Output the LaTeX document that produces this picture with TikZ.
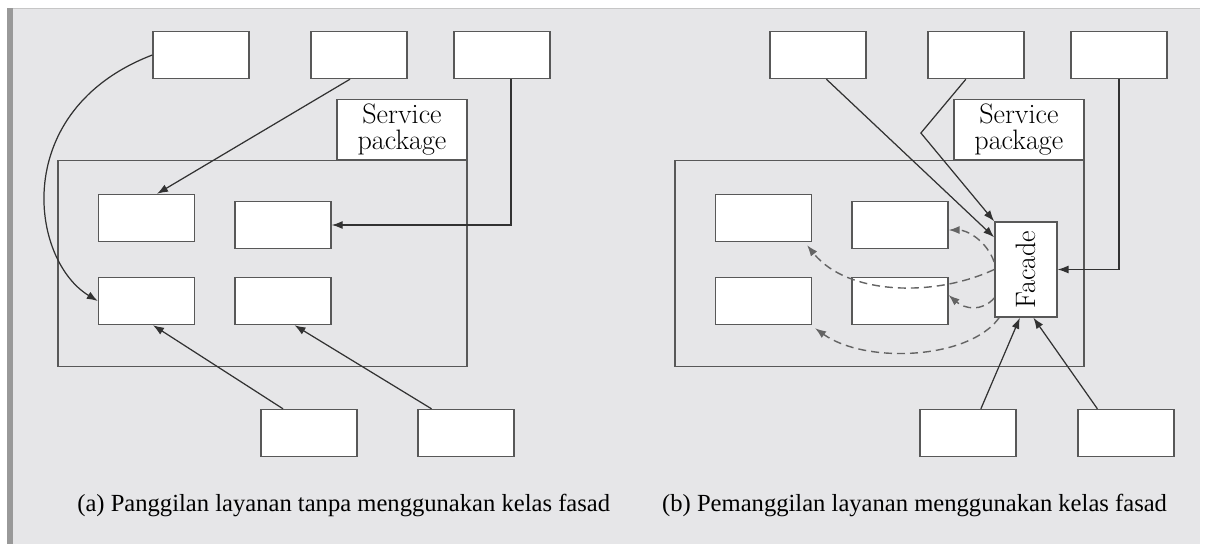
\documentclass[tikz,border=0pt]{standalone}
\usepackage{fontspec}
\newfontfamily\capfont{Liberation Serif}
\definecolor{panelgray}{RGB}{230,230,232}
\definecolor{edgegray}{RGB}{88,88,88}
\definecolor{linegray}{RGB}{50,50,50}
\definecolor{dashgray}{RGB}{100,100,100}
\usetikzlibrary{arrows.meta, positioning}

\begin{document}
\begin{tikzpicture}[x=0.02cm, y=-0.02cm,
  cls/.style={draw=edgegray, line width=0.8pt, fill=white, minimum width=1.92cm, minimum height=0.94cm, inner sep=0pt},
  pkg/.style={draw=edgegray, line width=0.8pt, minimum width=8.18cm, minimum height=4.11cm, inner sep=0pt},
  pkgtab/.style={draw=edgegray, line width=0.8pt, fill=white, minimum width=2.6cm, minimum height=1.2cm, inner sep=0pt, align=center, font=\fontsize{16}{14.5}\selectfont},
  call/.style={draw=linegray, line width=0.7pt, -{Latex[length=2.2mm,width=1.6mm]}},
  viafac/.style={draw=dashgray, line width=0.8pt, dash pattern=on 1.6mm off 1mm, -{Latex[length=2.2mm,width=1.6mm]}},
  caption/.style={font=\capfont\fontsize{14}{16}\selectfont, anchor=base west, inner sep=0pt}]
\useasboundingbox (0,0) rectangle (1207,549);
\fill[white] (0,0) rectangle (1207,549);
\fill[panelgray] (10,8) rectangle (1200,544);
\fill[gray!80] (7,8) rectangle (13,544);
\draw[gray!45] (13,8.5) -- (1200,8.5);
% (a) without facade
\begin{scope}
\node[cls] (a-t1) at (201,55) {};
\node[cls] (a-t2) at (359,55) {};
\node[cls] (a-t3) at (502,55) {};
\node[pkg] (a-pkg) at (262.5,263.5) {};
\node[pkgtab, anchor=south east] (a-tab) at (a-pkg.north east) {Service\\package};
\node[cls] (a-tl) at (146.5,218) {};
\node[cls] (a-tr) at (283,225) {};
\node[cls] (a-bl) at (146.5,301) {};
\node[cls] (a-br) at (283,301) {};
\node[cls] (a-u1) at (309,433) {};
\node[cls] (a-u2) at (466,433) {};
\draw[call] (a-t1.west) .. controls +(-143,55) and +(-68,-41) .. (a-bl.west);
\draw[call] ([xshift=-0.18cm]a-t2.south) -- ([xshift=0.21cm]a-tl.north);
\draw[call] ([xshift=0.18cm]a-t3.south) |- (a-tr.east);
\draw[call] ([xshift=-0.52cm]a-u1.north) -- ([xshift=0.13cm]a-bl.south);
\draw[call] ([xshift=-0.69cm]a-u2.north) -- ([xshift=0.23cm]a-br.south);
\node[caption] (a-cap) at (77,511) {(a) Panggilan layanan tanpa menggunakan kelas fasad};
\end{scope}
% (b) with facade
\begin{scope}[xshift=12.34cm]
\node[cls] (b-t1) at (201,55) {};
\node[cls] (b-t2) at (359,55) {};
\node[cls] (b-t3) at (502,55) {};
\node[pkg] (b-pkg) at (262.5,263.5) {};
\node[pkgtab, anchor=south east] (b-tab) at (b-pkg.north east) {Service\\package};
\node[cls] (b-tl) at (146.5,218) {};
\node[cls] (b-tr) at (283,225) {};
\node[cls] (b-bl) at (146.5,301) {};
\node[cls] (b-br) at (283,301) {};
\node[cls, minimum width=1.24cm, minimum height=1.9cm, font=\fontsize{16}{16}\selectfont] (b-fac) at (409,269.5) {\rotatebox{90}{Facade}};
\node[cls] (b-u1) at (351,433) {};
\node[cls] (b-u2) at (509,433) {};
\coordinate (b-bend) at (304,133);
\draw[call] ([xshift=0.17cm]b-t1.south) -- ([yshift=-0.32cm]b-fac.north west);
\draw[call] ([xshift=-0.2cm]b-t2.south) -- (b-bend) -- (b-fac.north west);
\draw[call] (b-t3.south) |- (b-fac.east);
\draw[call] ([xshift=0.26cm]b-u1.north) -- ([xshift=-0.12cm]b-fac.south);
\draw[call] ([xshift=-0.57cm]b-u2.north) -- ([xshift=0.15cm]b-fac.south);
\draw[viafac] ([yshift=0.15cm]b-fac.west) .. controls +(-8,-22) and +(18,0) .. ([yshift=-0.1cm]b-tr.east);
\draw[viafac] (b-fac.west) .. controls +(-60,28) and +(40,50) .. ([xshift=-0.1cm,yshift=-0.06cm]b-tl.south east);
\draw[viafac] ([yshift=-0.57cm]b-fac.west) .. controls +(-12,14) and +(16,14) .. ([yshift=0.12cm]b-br.east);
\draw[viafac] ([xshift=0.1cm]b-fac.south west) .. controls +(-30,42) and +(50,36) .. ([xshift=0.06cm,yshift=-0.06cm]b-bl.south east);
\node[caption] (b-cap) at (45,511) {(b) Pemanggilan layanan menggunakan kelas fasad};
\end{scope}
\end{tikzpicture}
\end{document}
